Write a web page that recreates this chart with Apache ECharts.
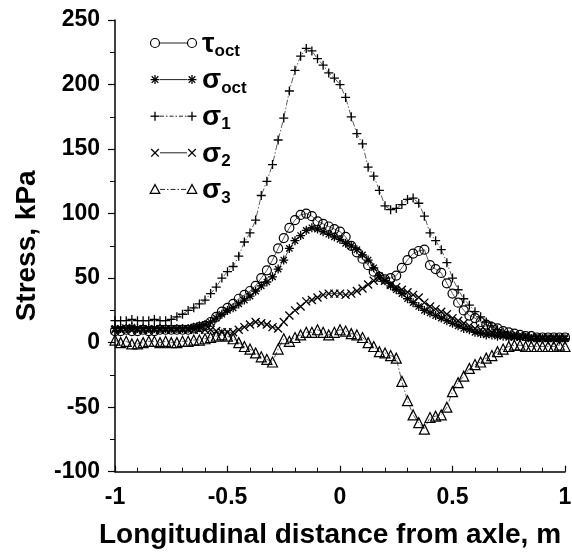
<!DOCTYPE html>
<html><head><meta charset="utf-8">
<script src="https://cdn.jsdelivr.net/npm/echarts@6/dist/echarts.min.js"></script>
<style>html,body{margin:0;padding:0;background:#fff}#c{width:572px;height:553px}</style>
</head><body><div id="c"></div>
<script>
// ---- data ----
const xs = [-1,-0.975,-0.95,-0.925,-0.9,-0.875,-0.85,-0.825,-0.8,-0.775,-0.75,-0.725,-0.7,-0.675,-0.65,-0.625,-0.6,-0.575,-0.55,-0.525,-0.5,-0.475,-0.45,-0.425,-0.4,-0.375,-0.35,-0.325,-0.3,-0.275,-0.25,-0.225,-0.2,-0.175,-0.15,-0.125,-0.1,-0.075,-0.05,-0.025,0,0.025,0.05,0.075,0.1,0.125,0.15,0.175,0.2,0.225,0.25,0.275,0.3,0.325,0.35,0.375,0.4,0.425,0.45,0.475,0.5,0.525,0.55,0.575,0.6,0.625,0.65,0.675,0.7,0.725,0.75,0.775,0.8,0.825,0.85,0.875,0.9,0.925,0.95,0.975,1];
const tauOct = [9,9,10,9,9,10,9,9,10,10,10,10,10,10,11,12,13,16,20,24,27,30,34,37,40,44,50,56,64,73,81,89,95,99,100,98,94,92,90,88,86,82,75,70,65,60,55,51,49,50,52,58,64,69,71,72,60,57,54,46,38,31,25,21,19,16,14,12,11,9,8,7,6,5,5,4,4,4,4,4,4];
const sigOct = [11,11,11,12,11,11,11,11,11,11,11,11,11,11,12,13,14,16,19,22,25,27,30,33,36,40,44,47,51,57,64,73,79,83,87,89,88,86,84,82,80,77,75,72,68,64,58,52,48,44,41,38,34,31,28,25,23,21,19,17,15,13,11,10,8,7,6,6,5,5,4,4,4,4,3,3,3,3,3,3,3];
const sig1 = [17,17,17,18,17,17,17,18,17,17,18,20,22,25,27,30,33,38,43,50,55,59,67,78,85,95,114,125,138,157,174,195,211,222,228,226,220,215,209,205,200,190,175,162,154,136,129,118,106,103,104,107,111,112,108,98,85,79,72,62,50,41,34,29,24,20,16,13,10,8,6,5,4,4,3,3,3,2,2,2,2];
const sig2 = [10,10,11,10,10,10,10,10,10,10,10,10,10,10,10,10,10,10,9,8,8,8,10,12,14,16,15,14,12,11,16,21,25,28,32,33,35,37,38,38,38,37,38,40,42,45,48,50,48,45,43,41,39,37,35,31,28,26,24,22,19,17,15,13,11,10,9,8,7,6,6,5,5,5,4,4,4,4,4,4,4];
const sig3 = [2,0,1,-1,-1,0,1,1,0,1,0,0,1,1,2,2,3,4,5,6,5,3,0,-3,-5,-8,-11,-13,-15,-5,3,1,4,6,8,8,10,8,6,8,10,9,7,6,4,0,-3,-7,-8,-10,-12,-30,-45,-56,-62,-67,-58,-57,-56,-50,-38,-31,-26,-20,-17,-15,-12,-10,-7,-5,-3,-2,-2,-3,-3,-3,-3,-3,-3,-2,-3];
const yTicks = [-100,-50,0,50,100,150,200,250];
const xTicks = [-1,-0.5,0,0.5,1];
const legendMain = ['τ','σ','σ','σ','σ'];
const legendSub = ['oct','oct','1','2','3'];
const xTitle = 'Longitudinal distance from axle, m';
const yTitle = 'Stress, kPa';

// ---- styling ----
const FONT = '"Liberation Sans", Arial, Helvetica, sans-serif';
const PLUS = 'path://M5,0L5,10M0,5L10,5';
const TIMES = 'path://M0,0L10,10M10,0L0,10';
const STAR = 'path://M5,0L5,10M0,5L10,5M1.5,1.5L8.5,8.5M8.5,1.5L1.5,8.5';
const DASHDOT = [6,2,1.5,2];

function pairs(v){ return xs.map((x,i)=>[x, v[i]]); }

function mkSeries(name, vals, symbol, size, lineType, bw){
  return {
    name, type:'line', data: pairs(vals), symbol, symbolSize:size,
    symbolKeepAspect:true, showSymbol:true, showAllSymbol:true,
    lineStyle:{color:'#333', width:0.8, type:lineType},
    itemStyle:{color:'rgba(0,0,0,0)', borderColor:'#000', borderWidth:bw},
    emphasis:{disabled:true}, silent:true, animation:false
  };
}

// ---- legend (graphic) ----
const L_X1 = 155, L_X2 = 192, L_Y0 = 43, L_DY = 36.6;
function legSym(kind, cx, cy){
  const st = {stroke:'#000', lineWidth:1.3, fill:'none'};
  if (kind==='circle') return [{type:'circle', shape:{cx, cy, r:4.5}, style:{stroke:'#000', lineWidth:1.2, fill:'none'}}];
  if (kind==='triangle') return [{type:'polygon', shape:{points:[[cx,cy-4.8],[cx+4.8,cy+4],[cx-4.8,cy+4]]}, style:{stroke:'#000', lineWidth:1.2, fill:'none'}}];
  const out = [];
  if (kind==='plus' || kind==='star'){
    out.push({type:'line', shape:{x1:cx-4.5,y1:cy,x2:cx+4.5,y2:cy}, style:st});
    out.push({type:'line', shape:{x1:cx,y1:cy-4.5,x2:cx,y2:cy+4.5}, style:st});
  }
  if (kind==='times' || kind==='star'){
    const d = kind==='star' ? 3.3 : 3.8;
    out.push({type:'line', shape:{x1:cx-d,y1:cy-d,x2:cx+d,y2:cy+d}, style:st});
    out.push({type:'line', shape:{x1:cx-d,y1:cy+d,x2:cx+d,y2:cy-d}, style:st});
  }
  return out;
}
const legKinds = ['circle','star','plus','times','triangle'];
const legDash = [null, null, [4,2,1.5,2], null, [5,2,1.5,2]];
const legendEls = [];
legKinds.forEach((k,i)=>{
  const cy = L_Y0 + i*L_DY;
  legendEls.push({type:'line', shape:{x1:L_X1+5,y1:cy,x2:L_X2-5,y2:cy},
    style:{stroke:'#222', lineWidth:1, lineDash:legDash[i] || null}});
  legSym(k, L_X1, cy).forEach(e=>legendEls.push(e));
  legSym(k, L_X2, cy).forEach(e=>legendEls.push(e));
  legendEls.push({type:'text', x:202, y:cy+1, style:{
    text:'{g|'+legendMain[i]+'}{s|'+legendSub[i]+'}',
    verticalAlign:'middle', align:'left',
    rich:{
      g:{fontSize:28, fontWeight:'bold', fontFamily:FONT, fill:'#000', lineHeight:32, verticalAlign:'middle'},
      s:{fontSize:17, fontWeight:'bold', fontFamily:FONT, fill:'#000', lineHeight:16, verticalAlign:'bottom'}
    }}});
});

const chart = echarts.init(document.getElementById('c'), null, {renderer:'canvas'});
chart.setOption({
  animation:false,
  backgroundColor:'#fff',
  grid:{left:115, right:7, top:20, bottom:81.3, containLabel:false, outerBoundsMode:'none'},
  xAxis:{
    type:'value', min:xTicks[0], max:xTicks[xTicks.length-1], interval:0.5,
    name:xTitle, nameLocation:'middle', nameGap:50, nameMoveOverlap:false,
    nameTextStyle:{fontSize:28, fontWeight:'bold', fontFamily:FONT, color:'#000', padding:[0,20,0,0]},
    axisLine:{show:true, onZero:false, lineStyle:{color:'#000', width:1.5}},
    axisTick:{show:true, inside:true, length:6, lineStyle:{color:'#000', width:1.2}},
    minorTick:{show:true, splitNumber:5, length:4, lineStyle:{color:'#000', width:1}},
    axisLabel:{margin:14, fontSize:23, fontWeight:'bold', fontFamily:FONT, color:'#000', hideOverlap:false, showMinLabel:true, showMaxLabel:true},
    splitLine:{show:false}, minorSplitLine:{show:false}
  },
  yAxis:{
    type:'value', min:yTicks[0], max:yTicks[yTicks.length-1], interval:50,
    name:yTitle, nameLocation:'middle', nameGap:74, nameRotate:90, nameMoveOverlap:false,
    nameTextStyle:{fontSize:28, fontWeight:'bold', fontFamily:FONT, color:'#000'},
    axisLine:{show:true, onZero:false, lineStyle:{color:'#000', width:1.5}},
    axisTick:{show:true, inside:false, length:7, lineStyle:{color:'#000', width:1.2}},
    minorTick:{show:true, splitNumber:2, length:5, lineStyle:{color:'#000', width:1}},
    axisLabel:{margin:15, fontSize:23, fontWeight:'bold', fontFamily:FONT, color:'#000', hideOverlap:false, showMinLabel:true, showMaxLabel:true},
    splitLine:{show:false}, minorSplitLine:{show:false}
  },
  series:[
    mkSeries('σ3', sig3, 'triangle', 10, DASHDOT, 1.2),
    mkSeries('σ2', sig2, TIMES, 8, 'solid', 1.3),
    mkSeries('σ1', sig1, PLUS, 9, DASHDOT, 1.3),
    mkSeries('σoct', sigOct, STAR, 9, 'solid', 1.3),
    mkSeries('τoct', tauOct, 'circle', 9, 'solid', 1.2)
  ],
  graphic:{elements:legendEls}
});
</script></body></html>
